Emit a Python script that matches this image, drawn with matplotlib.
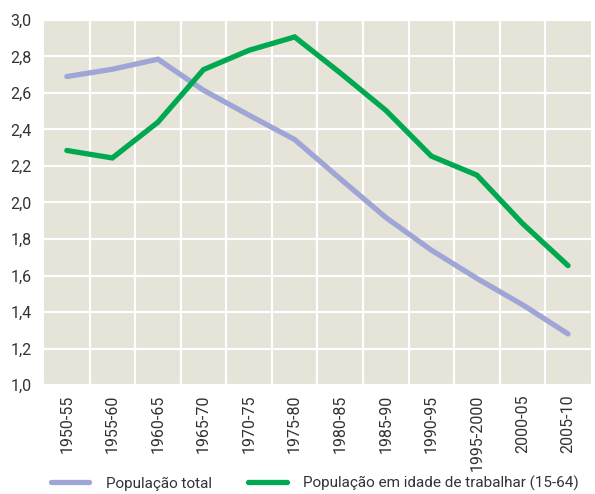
import numpy as np
import matplotlib.pyplot as plt

periods = ["1950-55", "1955-60", "1960-65", "1965-70", "1970-75", "1975-80",
           "1980-85", "1985-90", "1990-95", "1995-2000", "2000-05", "2005-10"]
pop_total = [2.69, 2.73, 2.785, 2.615, 2.478, 2.345, 2.13, 1.918, 1.739, 1.584, 1.44, 1.28]
pop_work = [2.285, 2.244, 2.44, 2.728, 2.834, 2.907, 2.71, 2.505, 2.254, 2.15, 1.885, 1.654]

plt.rcParams['font.family'] = ['Roboto', 'DejaVu Sans']

fig = plt.figure(figsize=(5.95, 4.94), dpi=100)
ax = fig.add_axes([0.074, 0.2206, 0.919, 0.739])
ax.set_facecolor('#e6e4d8')

x = np.arange(len(periods))
ax.plot(x, pop_total, color='#9fa5d5', lw=3.8, solid_capstyle='round',
        solid_joinstyle='miter', label='População total', zorder=3)
ax.plot(x, pop_work, color='#00a84f', lw=3.8, solid_capstyle='round',
        solid_joinstyle='miter', label='População em idade de trabalhar (15-64)', zorder=3)

ax.set_xlim(-0.5, len(periods) - 0.5)
ax.set_ylim(1.0, 3.0)
ax.set_xticks(x)
ax.set_xticklabels(periods, rotation=90)
ax.set_xticks(np.arange(0.5, len(periods) - 0.5), minor=True)
yt = np.round(np.arange(1.0, 3.01, 0.2), 1)
ax.set_yticks(yt)
ax.set_yticklabels([f"{v:.1f}".replace('.', ',') for v in yt])

ax.grid(True, axis='y', which='major', color='white', lw=1.6)
ax.grid(True, axis='x', which='minor', color='white', lw=1.6)
ax.set_axisbelow(True)
ax.tick_params(which='both', length=0, labelsize=11.5, colors='#333333')
ax.tick_params(axis='x', pad=7)
ax.tick_params(axis='y', pad=9)
for s in ax.spines.values():
    s.set_visible(False)

fig.legend(loc='lower left', bbox_to_anchor=(0.062, -0.022), ncol=2, frameon=False,
           fontsize=11, handlelength=2.5, handletextpad=1.1, columnspacing=2.4,
           labelcolor='#333333')

fig.savefig('out.png', dpi=100)
